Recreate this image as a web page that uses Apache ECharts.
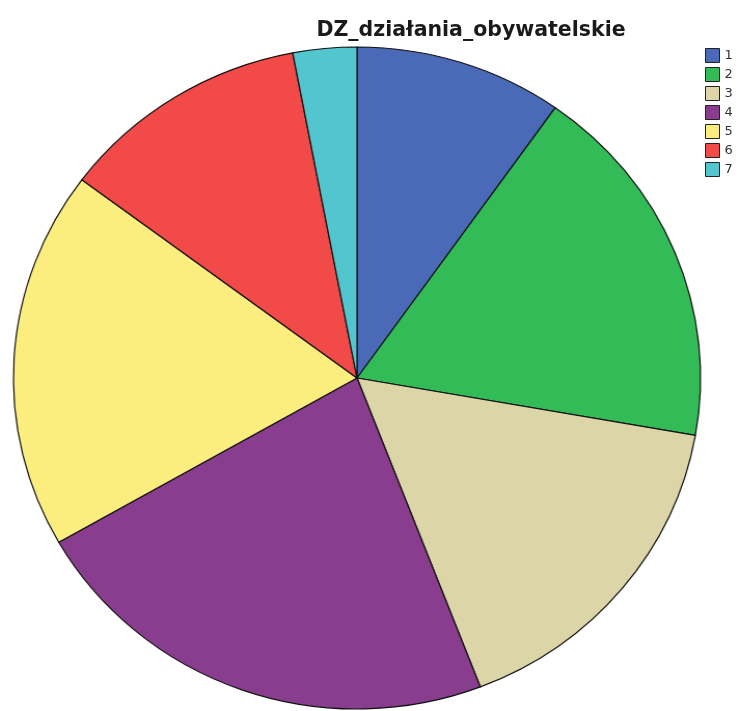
<!DOCTYPE html>
<html>
<head>
<meta charset="utf-8">
<script src="https://cdn.jsdelivr.net/npm/echarts@6/dist/echarts.min.js"></script>
<style>
  html, body { margin: 0; padding: 0; background: #ffffff; }
  #wrap { position: relative; width: 737px; height: 711px; overflow: hidden; }
  #pie, #labels { position: absolute; left: 0; top: 0; width: 737px; height: 711px; }
  /* the pie is drawn slightly wider than tall */
  #pie { transform: scaleX(1.038); transform-origin: 357px 378px; }
</style>
</head>
<body>
<div id="wrap">
  <div id="pie"></div>
  <div id="labels"></div>
</div>
<script>
const titleText = 'DZ_działania_obywatelskie';
const categories = ['1', '2', '3', '4', '5', '6', '7'];
const shares = [9.8, 18.0, 16.4, 22.6, 18.5, 11.8, 3.0];
const sliceColors = ['#4a69b6', '#33bb57', '#dbd5a8', '#893d8e', '#fcee7e', '#f24a49', '#52c5ce'];

const pieData = categories.map((c, i) => ({
  name: c,
  value: shares[i],
  itemStyle: { color: sliceColors[i] }
}));

const pieChart = echarts.init(document.getElementById('pie'), null, { renderer: 'canvas' });
pieChart.setOption({
  animation: false,
  series: [{
    type: 'pie',
    center: [357, 378],
    radius: 331,
    startAngle: 90,
    clockwise: true,
    label: { show: false },
    labelLine: { show: false },
    itemStyle: { borderColor: '#111111', borderWidth: 1.2 },
    emphasis: { disabled: true },
    data: pieData
  }]
});

// title and legend, drawn unscaled on top of the pie
const labelChart = echarts.init(document.getElementById('labels'), null, { renderer: 'canvas' });
labelChart.setOption({
  animation: false,
  title: {
    text: titleText,
    left: 466,
    textAlign: 'center',
    top: 15,
    textStyle: {
      fontFamily: 'DejaVu Sans, sans-serif',
      fontWeight: 'bold',
      fontSize: 20.5,
      color: '#1a1a1a'
    }
  },
  legend: {
    orient: 'vertical',
    left: 705,
    top: 48,
    padding: 0,
    itemWidth: 14,
    itemHeight: 14,
    itemGap: 4,
    icon: 'rect',
    selectedMode: false,
    data: categories.map((c, i) => ({
      name: c,
      itemStyle: { color: sliceColors[i], borderColor: '#222222', borderWidth: 1, opacity: 1 }
    })),
    textStyle: {
      fontFamily: 'DejaVu Sans, sans-serif',
      fontSize: 13,
      color: '#333333'
    }
  },
  series: [{
    type: 'pie',
    center: [-500, -500],
    radius: 1,
    silent: true,
    label: { show: false },
    labelLine: { show: false },
    data: pieData
  }]
});
</script>
</body>
</html>
